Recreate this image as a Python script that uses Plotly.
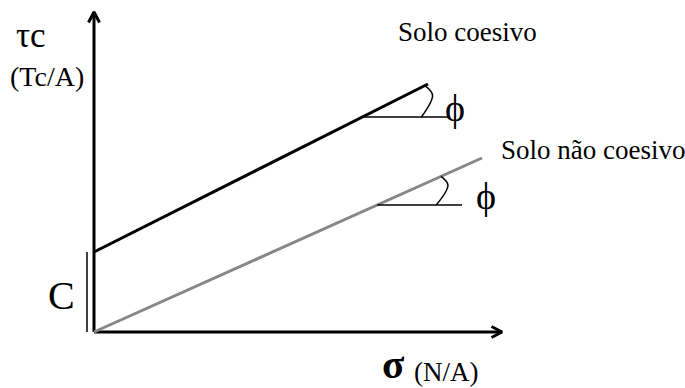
import numpy as np
import plotly.graph_objects as go

# Envoltórias de resistência (unidades de desenho: sigma em N/A, tau em Tc/A)
sigma_coesivo = [0.0, 33.4]
tau_coesivo = [8.0, 24.8]
sigma_nao_coesivo = [0.0, 38.8]
tau_nao_coesivo = [0.0, 17.4]
coesao = 8.0                 # intercepto C do solo coesivo
eixo_sigma_max = 40.8
eixo_tau_max = 32.0

# linhas horizontais de referência do ângulo phi (altura e fim em sigma)
ref_tau = [21.5, 12.7]
ref_sigma_fim = [35.4, 36.8]
# raio do arco de phi, medido a partir do vértice, em frações do ângulo
arc_frac = [0.0, 0.65, 1.0]
arc_raio = [5.9, 7.35, 7.0]

rotulos = {
    "tau": "τc",
    "tau_un": "(Tc/A)",
    "sigma": "<b>σ</b>",
    "sigma_un": "(N/A)",
    "c": "C",
    "coesivo": "Solo coesivo",
    "nao_coesivo": "Solo não coesivo",
    "phi": "ϕ",
}

SERIF = "'Liberation Serif'"
PRETO = "#000000"
CINZA = "#878787"

fig = go.Figure()


def linha(x, y, cor=PRETO, largura=3, shape="linear"):
    fig.add_trace(go.Scatter(x=x, y=y, mode="lines", hoverinfo="skip",
                             line=dict(color=cor, width=largura, shape=shape),
                             showlegend=False))


# eixos com setas abertas
linha([0, eixo_sigma_max], [0, 0])
linha([0, 0], [0, eixo_tau_max])
seta_comp, seta_larg = 1.05, 0.55
linha([eixo_sigma_max - seta_comp, eixo_sigma_max, eixo_sigma_max - seta_comp],
      [seta_larg, 0, -seta_larg])
linha([-seta_larg, 0, seta_larg],
      [eixo_tau_max - seta_comp, eixo_tau_max, eixo_tau_max - seta_comp])

# envoltórias
linha(sigma_coesivo, tau_coesivo, PRETO, 3)
linha(sigma_nao_coesivo, tau_nao_coesivo, CINZA, 3)

# cota da coesão C
linha([-0.7, -0.7], [0, coesao], PRETO, 1.5)

# ângulo phi em cada envoltória
for (sx, ty), t_ref, s_fim in zip(
        [(sigma_coesivo, tau_coesivo), (sigma_nao_coesivo, tau_nao_coesivo)],
        ref_tau, ref_sigma_fim):
    inclin = (ty[1] - ty[0]) / (sx[1] - sx[0])
    phi = np.arctan(inclin)
    vx = sx[0] + (t_ref - ty[0]) / inclin
    linha([vx, s_fim], [t_ref, t_ref], PRETO, 1.5)
    ang = phi * np.array(arc_frac)
    r = np.array(arc_raio)
    linha(list(vx + r * np.cos(ang)), list(t_ref + r * np.sin(ang)), PRETO, 1.5, "spline")

anot = [
    (rotulos["tau"], -6.3, 29.7, 35, "middle"),
    (rotulos["tau_un"], -4.7, 25.6, 28, "middle"),
    (rotulos["c"], -3.3, 3.7, 40, "middle"),
    (rotulos["coesivo"], 37.3, 30.0, 27, "middle"),
    (rotulos["nao_coesivo"], 49.9, 18.2, 27, "middle"),
    (rotulos["phi"], 36.1, 22.4, 38, "middle"),
    (rotulos["phi"], 39.2, 13.6, 38, "middle"),
    (rotulos["sigma"], 29.9, -5.6, 41, "bottom"),
    (rotulos["sigma_un"], 35.2, -4.0, 27, "middle"),
]
for txt, x, y, tam, vanc in anot:
    fig.add_annotation(x=x, y=y, xref="x", yref="y", text=txt, showarrow=False,
                       xanchor="center", yanchor=vanc, borderpad=0,
                       font=dict(family=SERIF, size=tam, color=PRETO))

fig.update_layout(
    width=685, height=388,
    margin=dict(l=0, r=0, t=0, b=0),
    paper_bgcolor="white", plot_bgcolor="white",
    xaxis=dict(range=[-9.4, 59.1], visible=False, fixedrange=True),
    yaxis=dict(range=[-5.6, 33.2], visible=False, fixedrange=True),
    showlegend=False,
)

fig.write_html("out.html")
